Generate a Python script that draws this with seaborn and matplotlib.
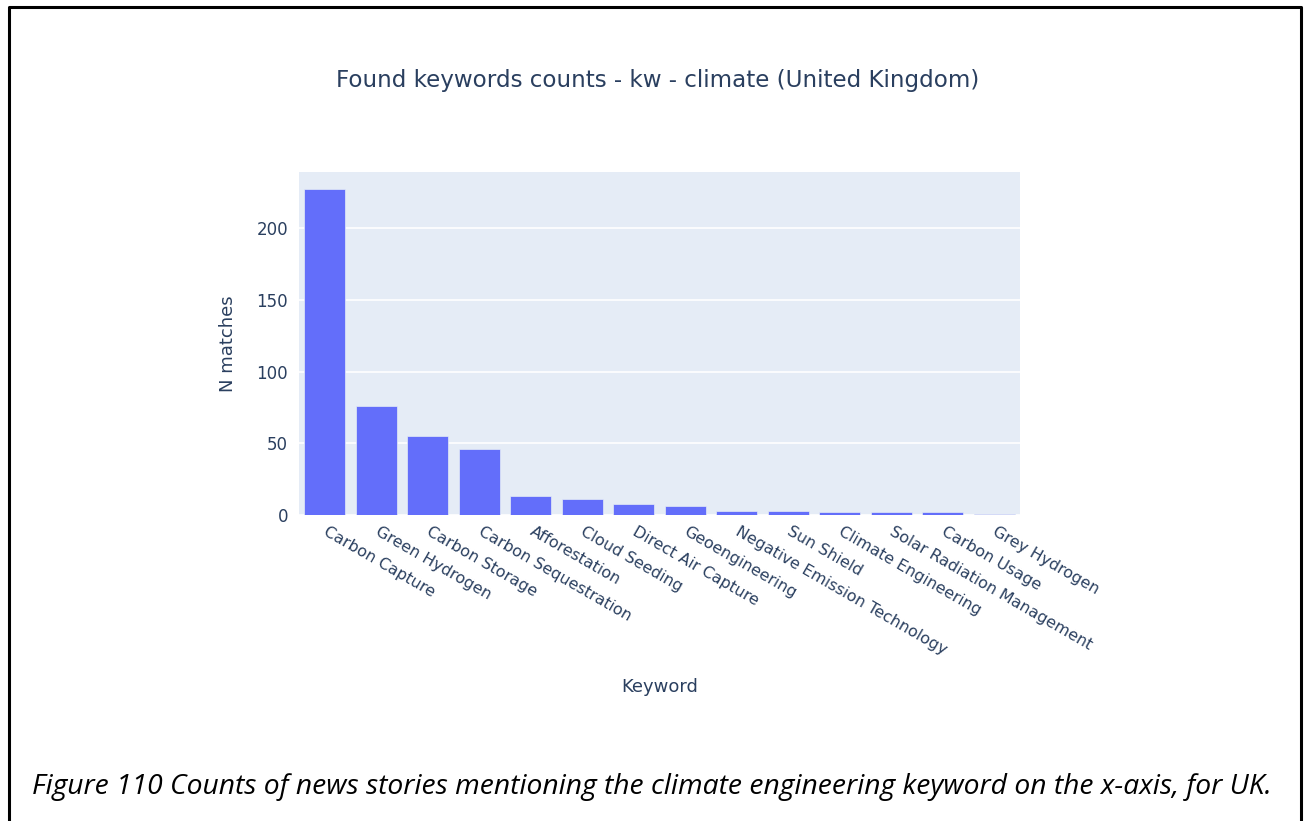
import matplotlib
matplotlib.use("Agg")
import matplotlib.pyplot as plt
import seaborn as sns
import pandas as pd
from matplotlib.lines import Line2D

keywords = ["Carbon Capture", "Green Hydrogen", "Carbon Storage", "Carbon Sequestration",
            "Afforestation", "Cloud Seeding", "Direct Air Capture", "Geoengineering",
            "Negative Emission Technology", "Sun Shield", "Climate Engineering",
            "Solar Radiation Management", "Carbon Usage", "Grey Hydrogen"]
counts = [227, 76, 55, 46, 13, 11, 8, 6, 3, 3, 2, 2, 2, 1]
y_ticks = [0, 50, 100, 150, 200]

df = pd.DataFrame({"keyword": keywords, "n": counts})

text_col = "#2a3f5f"
plt.rcParams["font.family"] = ["DejaVu Sans"]

fig = plt.figure(figsize=(13.08, 8.21), dpi=100)
ax = fig.add_axes([0.2286, 0.3727, 0.5512, 0.4178])
ax.set_facecolor("#e5ecf6")

sns.barplot(data=df, x="keyword", y="n", color="#636efa", saturation=1, width=0.8,
            edgecolor="#e5ecf6", linewidth=0.5, ax=ax, zorder=3)

ax.set_xlim(-0.5, len(keywords) - 0.5)
ax.set_ylim(0, max(counts) * 1.053)
ax.set_yticks(y_ticks)
ax.grid(axis="y", color="white", linewidth=1.2, zorder=0)
ax.grid(axis="x", visible=False)
ax.set_axisbelow(True)
for s in ax.spines.values():
    s.set_visible(False)
ax.tick_params(axis="both", length=0, colors=text_col)
ax.tick_params(axis="y", pad=8, labelsize=12)
ax.tick_params(axis="x", pad=11, labelsize=11.4)
plt.setp(ax.get_xticklabels(), rotation=-30, ha="left", va="center", rotation_mode="anchor")

ax.set_xlabel("Keyword", fontsize=13, color=text_col, labelpad=15)
ax.set_ylabel("N matches", fontsize=13, color=text_col, labelpad=14)

fig.text(0.503, 0.902, "Found keywords counts - kw - climate (United Kingdom)",
         ha="center", va="center", fontsize=16.6, color=text_col)

fig.text(0.4985, 0.041,
         "Figure 110 Counts of news stories mentioning the climate engineering keyword on the x-axis, for UK.",
         ha="center", va="center", fontsize=20.3, style="italic", family=["Open Sans", "DejaVu Sans"],
         color="black")

# frame around the figure (bottom edge is cut off in the source)
fig.add_artist(Line2D([0.0065, 0.0065, 0.9947, 0.9947], [0.0, 0.9915, 0.9915, 0.0],
                      color="black", linewidth=2.2, transform=fig.transFigure))

fig.savefig("out.png", dpi=100)
